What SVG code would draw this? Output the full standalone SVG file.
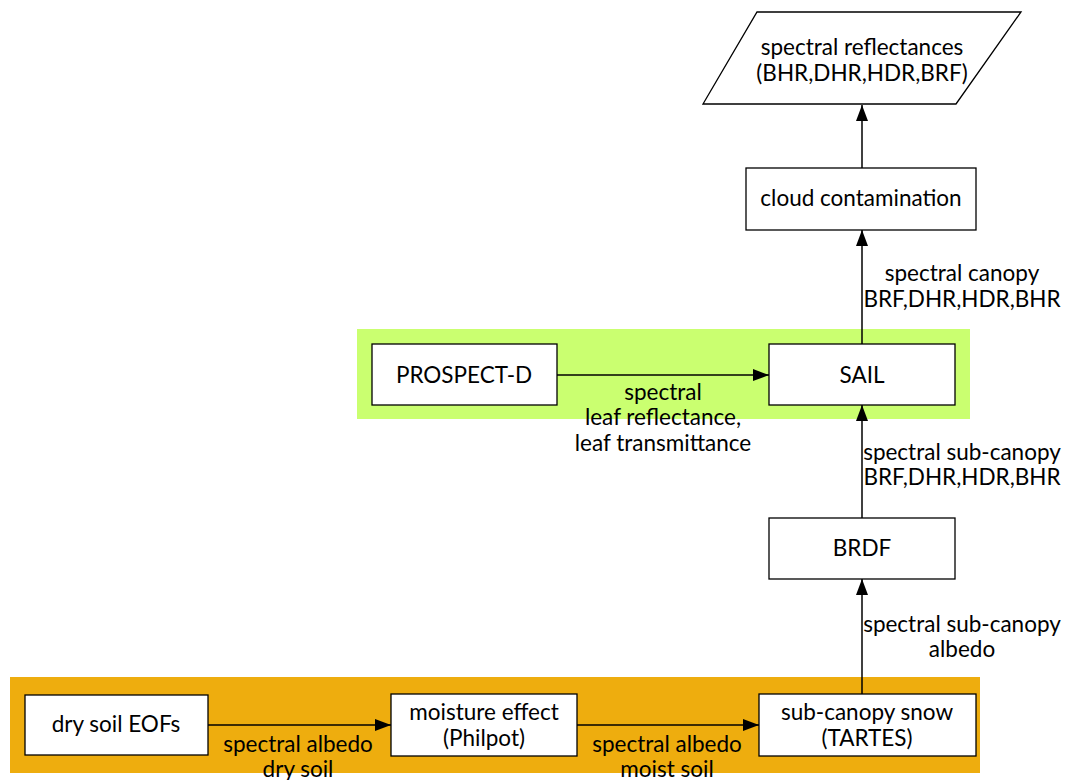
<svg xmlns="http://www.w3.org/2000/svg" width="1069" height="780" viewBox="0 0 1069 780">
<defs>
<marker id="ah" viewBox="0 0 16 12" refX="16" refY="6" markerWidth="16" markerHeight="12" markerUnits="userSpaceOnUse" orient="auto">
<path d="M0,0 L16,6 L0,12 z" fill="#000"/>
</marker>
<style>
text{font-family:Lato,"Open Sans","Noto Sans",sans-serif;font-size:22.5px;fill:#000;text-anchor:middle}
.box{fill:#fff;stroke:#000;stroke-width:1.3}
.edge{stroke:#000;stroke-width:1.5;fill:none;marker-end:url(#ah)}
</style>
</defs>
<rect x="0" y="0" width="1069" height="780" fill="#fff"/>
<g id="cluster_veg"><rect x="357" y="329" width="613" height="90" fill="#caff70"/></g>
<g id="cluster_soil"><rect x="10" y="677" width="970" height="96" fill="#eead0e"/></g>
<g id="connectors">
<line class="edge" x1="862" y1="168" x2="862" y2="105"/>
<line class="edge" x1="862" y1="344" x2="862" y2="230"/>
<line class="edge" x1="557" y1="375" x2="769" y2="375"/>
<line class="edge" x1="862" y1="518" x2="862" y2="405"/>
<line class="edge" x1="862" y1="694" x2="862" y2="579"/>
<line class="edge" x1="208" y1="725" x2="391" y2="725"/>
<line class="edge" x1="577" y1="725" x2="759" y2="725"/>
<text x="962" y="281">spectral canopy</text>
<text x="962" y="307">BRF,DHR,HDR,BHR</text>
<text x="663" y="400">spectral</text>
<text x="663" y="425">leaf reflectance,</text>
<text x="663" y="451">leaf transmittance</text>
<text x="962" y="460">spectral sub-canopy</text>
<text x="962" y="485">BRF,DHR,HDR,BHR</text>
<text x="962" y="632">spectral sub-canopy</text>
<text x="962" y="657">albedo</text>
<text x="298" y="752">spectral albedo</text>
<text x="298" y="777">dry soil</text>
<text x="667" y="752">spectral albedo</text>
<text x="667" y="777">moist soil</text>
</g>
<g id="reflectances"><path class="box" d="M757,12 L1021,12 L956,104 L703,104 z"/><text x="862" y="55">spectral reflectances</text><text x="862" y="81">(BHR,DHR,HDR,BRF)</text></g>
<g id="cloud"><rect class="box" x="746" y="168" width="230" height="62"/><text x="861" y="206">cloud contamination</text></g>
<g id="prospect"><rect class="box" x="372" y="344" width="185" height="61"/><text x="464" y="383">PROSPECT-D</text></g>
<g id="sail"><rect class="box" x="769" y="344" width="186" height="61"/><text x="862" y="383">SAIL</text></g>
<g id="brdf"><rect class="box" x="769" y="518" width="186" height="61"/><text x="862" y="556">BRDF</text></g>
<g id="drysoil"><rect class="box" x="25" y="695" width="183" height="60"/><text x="116" y="732">dry soil EOFs</text></g>
<g id="moisture"><rect class="box" x="391" y="694" width="186" height="62"/><text x="484" y="720">moisture effect</text><text x="484" y="746">(Philpot)</text></g>
<g id="snow"><rect class="box" x="759" y="694" width="217" height="62"/><text x="867" y="720">sub-canopy snow</text><text x="867" y="746">(TARTES)</text></g>
</svg>
